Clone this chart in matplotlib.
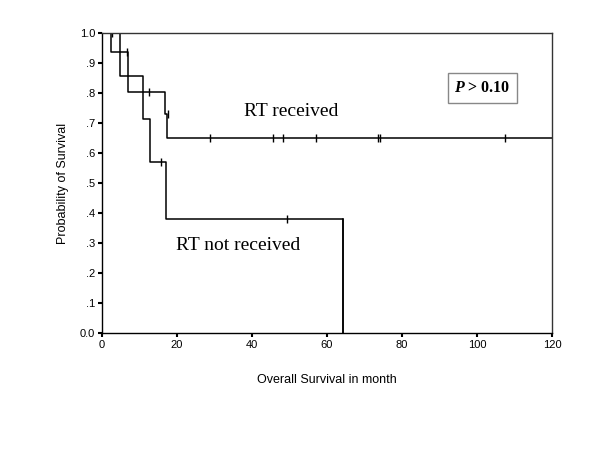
import matplotlib
matplotlib.use("Agg")
import matplotlib.pyplot as plt

plt.rcParams["mathtext.fontset"] = "custom"
plt.rcParams["mathtext.bfit"] = "Liberation Serif:bold:italic"
plt.rcParams["mathtext.bf"] = "Liberation Serif:bold"
plt.rcParams["mathtext.rm"] = "Liberation Serif"

# RT received group (Kaplan-Meier steps)
rec_times = [0, 2.4, 6.8, 16.8, 17.3, 120]
rec_surv = [1.0, 0.937, 0.805, 0.732, 0.65, 0.65]
rec_cens_t = [6.6, 12.6, 17.6, 28.8, 45.7, 48.3, 57.0, 73.5, 74.1, 107.5]
rec_cens_s = [0.937, 0.805, 0.732, 0.65, 0.65, 0.65, 0.65, 0.65, 0.65, 0.65]

# RT not received group
non_times = [0, 4.8, 10.8, 12.8, 17.1, 64.2]
non_surv = [1.0, 0.857, 0.714, 0.571, 0.381, 0.0]
non_cens_t = [2.7, 15.7, 49.4]
non_cens_s = [1.0, 0.571, 0.381]

x_ticks = [0, 20, 40, 60, 80, 100, 120]
y_ticks = [0.0, 0.1, 0.2, 0.3, 0.4, 0.5, 0.6, 0.7, 0.8, 0.9, 1.0]
y_labels = ["0.0", ".1", ".2", ".3", ".4", ".5", ".6", ".7", ".8", ".9", "1.0"]

fig = plt.figure(figsize=(6, 4.5), dpi=100)
ax = fig.add_axes([0.17, 0.259, 0.75, 0.667])

ax.step(rec_times, rec_surv, where="post", color="black", lw=1.1)
ax.plot(rec_cens_t, rec_cens_s, ls="none", marker="|", ms=6, mew=1.0, color="black")
ax.step(non_times, non_surv, where="post", color="black", lw=1.1)
ax.plot([non_times[-1], non_times[-1]], [non_surv[-2], non_surv[-1]], color="black", lw=1.1)
ax.plot(non_cens_t, non_cens_s, ls="none", marker="|", ms=6, mew=1.0, color="black")

ax.set_xlim(0, 120)
ax.set_ylim(0, 1.0)
ax.set_xticks(x_ticks)
ax.set_xticklabels([str(v) for v in x_ticks], fontsize=8, family="Liberation Sans")
ax.set_yticks(y_ticks)
ax.set_yticklabels(y_labels, fontsize=8, family="Liberation Sans")
ax.tick_params(direction="out", length=3, width=1.5, pad=2)
for s in ax.spines.values():
    s.set_linewidth(1.0)
    s.set_color("#333333")
ax.spines["left"].set_color("black")
ax.spines["bottom"].set_color("black")

ax.set_xlabel("Overall Survival in month", fontsize=9, family="Liberation Sans", labelpad=17)
ax.set_ylabel("Probability of Survival", fontsize=9, family="Liberation Sans", labelpad=8)

ax.text(38.0, 0.738, "RT received", fontsize=14, family="Liberation Serif", va="center", ha="left")
ax.text(19.7, 0.292, "RT not received", fontsize=14, family="Liberation Serif", va="center", ha="left")
ax.text(101.5, 0.818, r"$\mathbfit{P}$ > 0.10", fontsize=11.5, family="Liberation Serif",
        fontweight="bold", va="center", ha="center",
        bbox=dict(boxstyle="square,pad=0.42", fc="white", ec="#888888", lw=1.0))

fig.savefig("out.png", dpi=100)
